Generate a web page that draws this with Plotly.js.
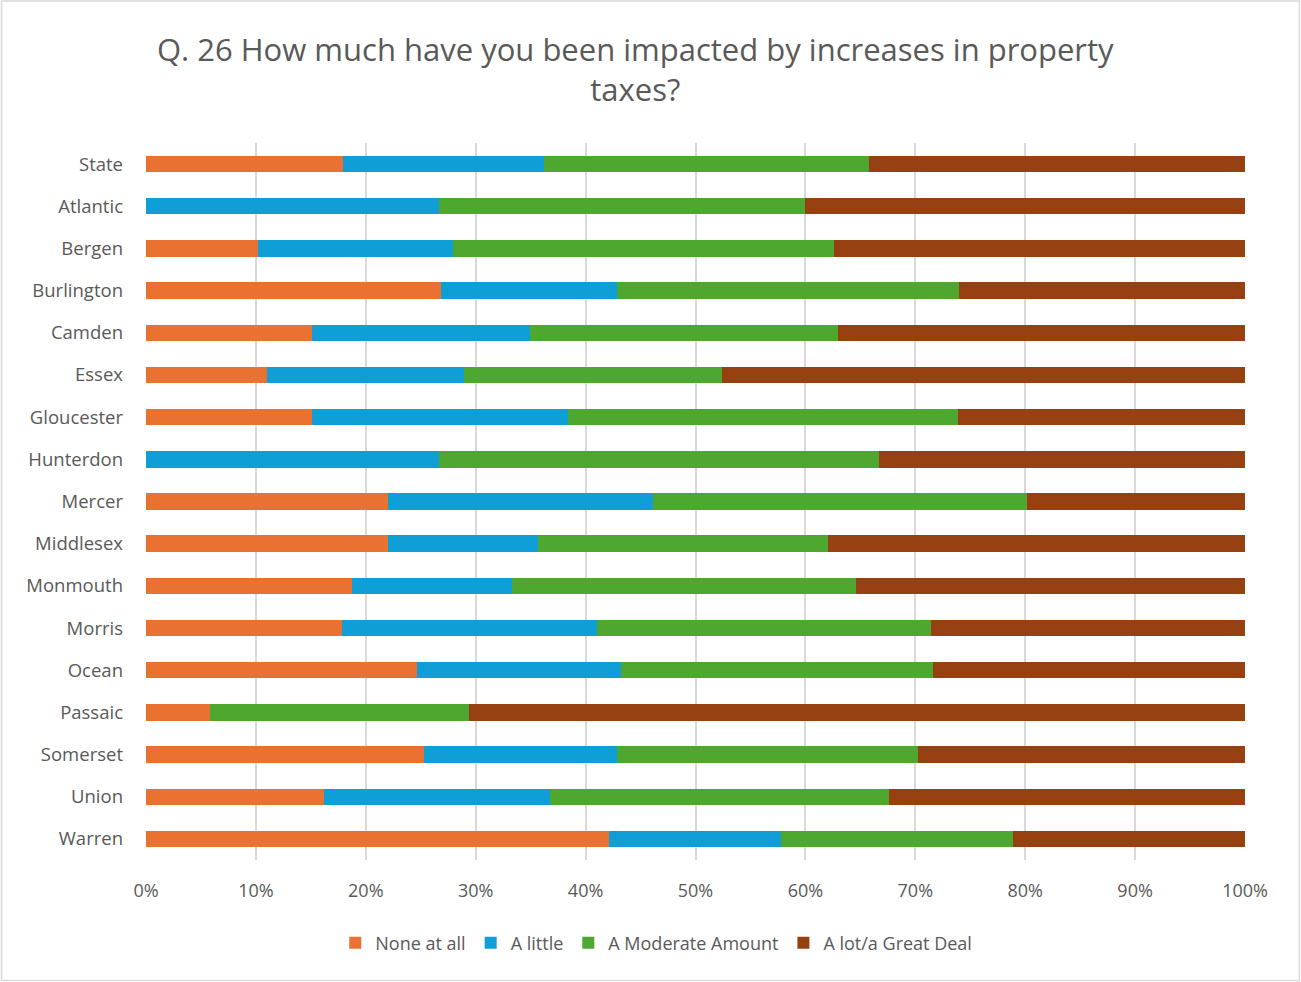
<!DOCTYPE html>
<html>
<head>
<meta charset="utf-8">
<script src="https://cdn.plot.ly/plotly-3.0.1.min.js"></script>
<style>
  html, body { margin: 0; padding: 0; background: #fff; }
  #chart { width: 1301px; height: 982px; }
</style>
</head>
<body>
<div id="chart"></div>
<script>
const categories = ["State","Atlantic","Bergen","Burlington","Camden","Essex","Gloucester","Hunterdon","Mercer","Middlesex","Monmouth","Morris","Ocean","Passaic","Somerset","Union","Warren"];
const seriesNames = ["None at all","A little","A Moderate Amount","A lot/a Great Deal"];
const noneAtAll   = [17.9, 0,    10.2, 26.8, 15.1, 11.0, 15.1, 0,    22.0, 22.0, 18.7, 17.8, 24.7, 5.8,  25.3, 16.2, 42.1];
const aLittle     = [18.3, 26.7, 17.7, 16.1, 19.8, 17.9, 23.3, 26.7, 24.1, 13.7, 14.6, 23.2, 18.5, 0,    17.6, 20.6, 15.7];
const moderate    = [29.6, 33.3, 34.7, 31.1, 28.1, 23.5, 35.5, 40.0, 34.1, 26.4, 31.3, 30.4, 28.4, 23.6, 27.3, 30.8, 21.1];
const aLot        = [34.2, 40.0, 37.4, 26.0, 37.0, 47.6, 26.1, 33.3, 19.8, 37.9, 35.4, 28.6, 28.4, 70.6, 29.8, 32.4, 21.1];
const xTickVals   = [0,10,20,30,40,50,60,70,80,90,100];
const xTickText   = ["0%","10%","20%","30%","40%","50%","60%","70%","80%","90%","100%"];
const colors = ["#E97132","#0F9ED5","#4EA72E","#974011"];

const values = [noneAtAll, aLittle, moderate, aLot];
const traces = values.map((v, i) => ({
  type: "bar",
  orientation: "h",
  name: seriesNames[i],
  y: categories,
  x: v,
  marker: { color: colors[i], line: { width: 0 } },
  hoverinfo: "name+x"
}));

const W = 1301, H = 982;
const m = { l: 145.5, r: 56, t: 143, b: 122 };
const pw = W - m.l - m.r, ph = H - m.t - m.b;
const FONT = "'Open Sans', Lato, sans-serif";

const layout = {
  width: W, height: H,
  margin: m,
  paper_bgcolor: "#ffffff",
  plot_bgcolor: "#ffffff",
  barmode: "stack",
  bargap: 0.61,
  font: { family: FONT, color: "#595959" },
  title: {
    text: "Q. 26 How much have you been impacted by increases in property<br>taxes?",
    font: { size: 31, color: "#595959", family: FONT },
    xref: "paper", x: (635 - m.l) / pw, xanchor: "center",
    yref: "container", y: 1 - 61 / H, yanchor: "top"
  },
  xaxis: {
    range: [0, 100],
    tickvals: xTickVals,
    ticktext: xTickText,
    showgrid: true,
    gridcolor: "#d9d9d9",
    gridwidth: 1.5,
    zeroline: false,
    showline: false,
    ticks: "",
    tickfont: { size: 18, color: "#595959" },
    ticklabelstandoff: 18,
    fixedrange: true
  },
  yaxis: {
    type: "category",
    categoryorder: "array",
    categoryarray: categories,
    autorange: "reversed",
    showgrid: false,
    zeroline: false,
    showline: false,
    ticks: "",
    tickfont: { size: 18.5, color: "#595959" },
    ticklabelstandoff: 22,
    fixedrange: true
  },
  legend: {
    orientation: "h",
    x: (656 - m.l) / pw, xanchor: "center",
    y: -(943 - (H - m.b)) / ph, yanchor: "middle",
    font: { size: 18, color: "#595959" },
    traceorder: "normal",
    itemclick: false,
    itemdoubleclick: false
  },
  shapes: [{
    type: "rect",
    xref: "paper", yref: "paper",
    x0: -(m.l - 1) / pw, x1: 1 + (m.r - 1.5) / pw,
    y0: -(m.b - 1.5) / ph, y1: 1 + (m.t - 1) / ph,
    line: { color: "#d9d9d9", width: 1.5 },
    fillcolor: "rgba(0,0,0,0)",
    layer: "below"
  }],
  showlegend: true
};

Plotly.newPlot("chart", traces, layout, { displayModeBar: false, staticPlot: false });
</script>
</body>
</html>
